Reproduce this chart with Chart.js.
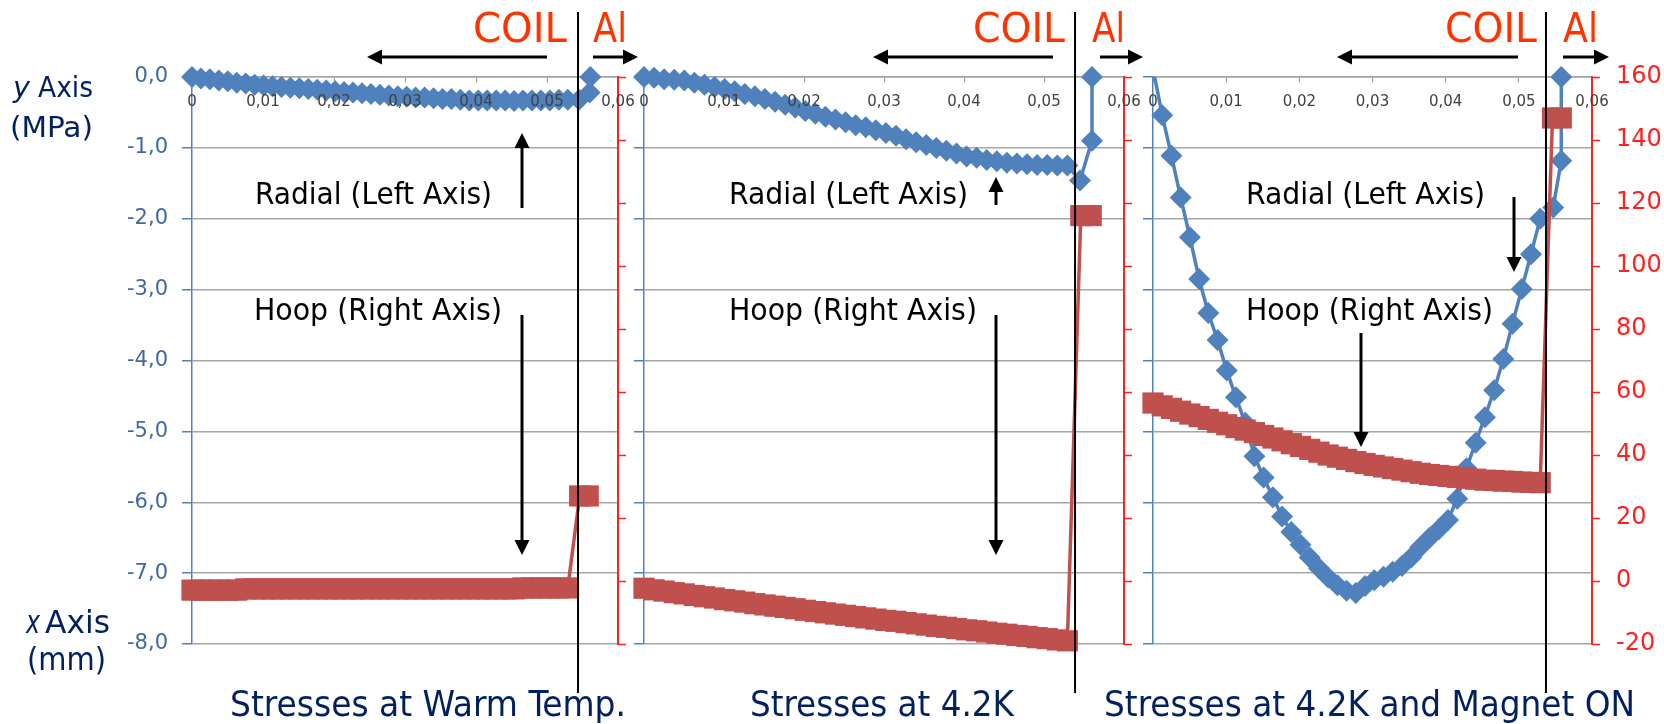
<!DOCTYPE html>
<html><head><meta charset="utf-8">
<script src="https://cdn.jsdelivr.net/npm/chart.js@4.4.1/dist/chart.umd.min.js"></script>
<style>
html,body{margin:0;padding:0;background:#fff;width:1664px;height:724px;overflow:hidden;}
#wrap{position:relative;width:1664px;height:724px;overflow:hidden;}
#wrap canvas{position:absolute;top:0;}
#ov{position:absolute;left:0;top:0;}
</style></head><body>
<div id="wrap">
<canvas id="p1"></canvas><canvas id="p2"></canvas><canvas id="p3"></canvas>
<svg id="ov" width="1664" height="724" viewBox="0 0 1664 724" style="font-family:'DejaVu Sans Condensed','DejaVu Sans',sans-serif">
 <g fill="#ff3300" font-size="41">
  <text x="473" y="42" textLength="94" lengthAdjust="spacingAndGlyphs">COIL</text>
  <text x="593" y="42" textLength="34" lengthAdjust="spacingAndGlyphs">Al</text>
  <text x="973" y="42" textLength="92" lengthAdjust="spacingAndGlyphs">COIL</text>
  <text x="1092" y="42" textLength="33" lengthAdjust="spacingAndGlyphs">Al</text>
  <text x="1445" y="42" textLength="92" lengthAdjust="spacingAndGlyphs">COIL</text>
  <text x="1563" y="42" textLength="35" lengthAdjust="spacingAndGlyphs">Al</text>
 </g>
 <g fill="#000" font-size="30">
  <text x="255" y="204" textLength="237" lengthAdjust="spacingAndGlyphs">Radial (Left Axis)</text>
  <text x="254" y="320" textLength="248" lengthAdjust="spacingAndGlyphs">Hoop (Right Axis)</text>
  <text x="729" y="204" textLength="239" lengthAdjust="spacingAndGlyphs">Radial (Left Axis)</text>
  <text x="729" y="320" textLength="248" lengthAdjust="spacingAndGlyphs">Hoop (Right Axis)</text>
  <text x="1246" y="204" textLength="239" lengthAdjust="spacingAndGlyphs">Radial (Left Axis)</text>
  <text x="1246" y="320" textLength="247" lengthAdjust="spacingAndGlyphs">Hoop (Right Axis)</text>
 </g>
 <g fill="#00205f" font-size="35">
  <text x="230" y="716" textLength="396" lengthAdjust="spacingAndGlyphs">Stresses at Warm Temp.</text>
  <text x="750" y="716" textLength="264" lengthAdjust="spacingAndGlyphs">Stresses at 4.2K</text>
  <text x="1104" y="716" textLength="531" lengthAdjust="spacingAndGlyphs">Stresses at 4.2K and Magnet ON</text>
 </g>
 <g fill="#00205f">
  <text x="13" y="97" font-size="28" font-style="italic" textLength="17" lengthAdjust="spacingAndGlyphs">y</text>
  <text x="38" y="97" font-size="28" textLength="55" lengthAdjust="spacingAndGlyphs">Axis</text>
  <text x="10" y="137" font-size="28" textLength="83" lengthAdjust="spacingAndGlyphs">(MPa)</text>
  <text x="26" y="633" font-size="32" font-style="italic" textLength="14" lengthAdjust="spacingAndGlyphs">x</text>
  <text x="45" y="633" font-size="32" textLength="65" lengthAdjust="spacingAndGlyphs">Axis</text>
  <text x="27" y="670" font-size="32" textLength="79" lengthAdjust="spacingAndGlyphs">(mm)</text>
 </g>
 <g id="arrows"></g>
 <g id="seps"></g>
</svg>
</div>
<script>
// ---- data (x in the plotted units, stresses in MPa) ----
const xCoil = [0, 0.00126, 0.00252, 0.00378, 0.00504, 0.0063, 0.00756, 0.00882, 0.01008, 0.01134,
  0.0126, 0.01386, 0.01512, 0.01638, 0.01764, 0.0189, 0.02016, 0.02142, 0.02268, 0.02394,
  0.0252, 0.02646, 0.02772, 0.02898, 0.03024, 0.0315, 0.03276, 0.03402, 0.03528, 0.03654,
  0.0378, 0.03906, 0.04032, 0.04158, 0.04284, 0.0441, 0.04536, 0.04662, 0.04788, 0.04914,
  0.0504, 0.05166, 0.05292];
const xTicks = [0, 0.01, 0.02, 0.03, 0.04, 0.05, 0.06];

// Warm temperature
const radialWarm = [0, -0.02, -0.03, -0.05, -0.06, -0.08, -0.09, -0.11, -0.12, -0.13,
  -0.14, -0.15, -0.16, -0.17, -0.18, -0.19, -0.2, -0.21, -0.22, -0.23,
  -0.24, -0.25, -0.26, -0.27, -0.28, -0.29, -0.29, -0.3, -0.31, -0.31,
  -0.32, -0.33, -0.33, -0.33, -0.33, -0.33, -0.34, -0.33, -0.33, -0.33,
  -0.33, -0.32, -0.32];
const radialWarmAlX = [0.0545, 0.0560, 0.0561];
const radialWarmAlY = [-0.32, -0.22, 0.0];
const hoopWarm = [-2.9, -2.9, -2.9, -2.9, -2.9, -2.9, -2.5, -2.5, -2.5, -2.5,
  -2.5, -2.5, -2.5, -2.5, -2.5, -2.5, -2.5, -2.5, -2.5, -2.5,
  -2.5, -2.5, -2.5, -2.5, -2.5, -2.5, -2.5, -2.5, -2.5, -2.5,
  -2.5, -2.5, -2.5, -2.5, -2.5, -2.5, -2.5, -2.2, -2.2, -2.2,
  -2.2, -2.2, -2.2];
const hoopWarmAlX = [0.0546, 0.0558];
const hoopWarmAlY = [27, 27];

// 4.2 K
const radialCold = [0, -0.01, -0.03, -0.04, -0.05, -0.08, -0.11, -0.14, -0.17, -0.2,
  -0.24, -0.27, -0.31, -0.35, -0.39, -0.43, -0.48, -0.52, -0.56, -0.6,
  -0.64, -0.68, -0.71, -0.75, -0.79, -0.83, -0.88, -0.92, -0.96, -1.0,
  -1.04, -1.08, -1.12, -1.14, -1.17, -1.19, -1.21, -1.22, -1.23, -1.24,
  -1.24, -1.25, -1.25];
const radialColdAlX = [0.0545, 0.0560, 0.0560];
const radialColdAlY = [-1.46, -0.9, 0.0];
const hoopCold = [-2.3, -2.8, -3.2, -3.7, -4.1, -4.6, -5.0, -5.4, -5.9, -6.3,
  -6.7, -7.2, -7.6, -8.0, -8.4, -8.8, -9.3, -9.7, -10.1, -10.5,
  -10.9, -11.3, -11.7, -12.1, -12.5, -12.8, -13.2, -13.6, -14.0, -14.4,
  -14.7, -15.1, -15.5, -15.8, -16.2, -16.6, -16.9, -17.3, -17.6, -18.0,
  -18.3, -18.7, -19.0];
const hoopColdAlX = [0.0546, 0.0559];
const hoopColdAlY = [116, 116];

// 4.2 K and magnet ON
const radialOn = [0.12, -0.54, -1.11, -1.70, -2.26, -2.85, -3.33, -3.71, -4.14, -4.52,
  -4.88, -5.35, -5.65, -5.93, -6.2, -6.42, -6.6, -6.78, -6.93, -7.06,
  -7.17, -7.25, -7.28, -7.18, -7.10, -7.05, -6.98, -6.90, -6.78, -6.63,
  -6.50, -6.38, -6.25, -5.95, -5.52, -5.16, -4.80, -4.42, -3.98, -3.48,
  -2.99, -2.50, -2.00];
const radialOnAlX = [0.0547, 0.0558, 0.0558];
const radialOnAlY = [-1.84, -1.18, 0.0];
const hoopOn = [56.5, 55.6, 54.8, 53.9, 53.0, 52.2, 51.3, 50.4, 49.6, 48.7,
  47.9, 47.1, 46.2, 45.4, 44.5, 43.6, 42.7, 41.8, 40.9, 40.0,
  39.3, 38.6, 37.9, 37.3, 36.7, 36.2, 35.7, 35.2, 34.7, 34.2,
  33.8, 33.5, 33.2, 32.9, 32.6, 32.3, 32.0, 31.9, 31.7, 31.6,
  31.4, 31.3, 31.2];
const hoopOnAlX = [0.0546, 0.0558];
const hoopOnAlY = [147, 147];

// COIL / Al interface positions (x units)
const interfaceX = [0.05437, 0.05388, 0.05371];

// ---- styling / layout ----
const BLUE = '#4f81bd', RED = '#c0504d', AXRED = '#ff2020';
const AXFONT = "'DejaVu Sans',sans-serif";
const M = 110;
const panels = [
  {id:'p1', left:192, right:618, rad:radialWarm, radAlX:radialWarmAlX, radAlY:radialWarmAlY,
   hoop:hoopWarm, hoopAlX:hoopWarmAlX, hoopAlY:hoopWarmAlY, leftLabels:true, rightLabels:false, cut:0},
  {id:'p2', left:644, right:1124, rad:radialCold, radAlX:radialColdAlX, radAlY:radialColdAlY,
   hoop:hoopCold, hoopAlX:hoopColdAlX, hoopAlY:hoopColdAlY, leftLabels:false, rightLabels:false, cut:0},
  {id:'p3', left:1153, right:1592, rad:radialOn, radAlX:radialOnAlX, radAlY:radialOnAlY,
   hoop:hoopOn, hoopAlX:hoopOnAlX, hoopAlY:hoopOnAlY, leftLabels:false, rightLabels:true, cut:6}
];

const pts = (xs, ys) => xs.map((x, i) => ({x: x, y: ys[i]}));

const clipPlug = {
  id: 'clipPlug',
  beforeDatasetDraw(chart, args, opts) {
    const a = chart.chartArea, ctx = chart.ctx, m = 16;
    ctx.save(); ctx.beginPath();
    if (opts.cut && args.meta.yAxisID === 'y') {
      ctx.rect(a.left - m, a.top, a.width + 2 * m, a.height + m);
      ctx.rect(a.left + opts.cut, a.top - m, a.width - opts.cut + m, m);
    } else {
      ctx.rect(a.left - m, a.top - m, a.width + 2 * m, a.height + 2 * m);
    }
    ctx.clip();
  },
  afterDatasetDraw(chart) { chart.ctx.restore(); }
};

const charts = [];
panels.forEach(p => {
  const cv = document.getElementById(p.id);
  const w = p.right - p.left + 2 * M;
  cv.width = w; cv.height = 724;
  cv.style.left = (p.left - M) + 'px';
  cv.style.width = w + 'px'; cv.style.height = '724px';
  const radData = pts(xCoil, p.rad).concat(pts(p.radAlX, p.radAlY));
  const hoopData = pts(xCoil, p.hoop).concat(pts(p.hoopAlX, p.hoopAlY));
  const ch = new Chart(cv, {
    type: 'scatter',
    data: { datasets: [
      { label: 'Hoop', data: hoopData, yAxisID: 'y1', showLine: true, clip: false, order: 0,
        borderColor: RED, backgroundColor: RED, borderWidth: 3.5,
        pointStyle: 'rect', pointRadius: 15, pointBorderWidth: 0, pointBackgroundColor: RED },
      { label: 'Radial', data: radData, yAxisID: 'y', showLine: true, clip: false, order: 1,
        borderColor: BLUE, backgroundColor: BLUE, borderWidth: 3.5,
        pointStyle: 'rectRot', pointRadius: radData.map(d => d.y > 0 ? 0 : 11),
        pointBorderWidth: 0, pointBackgroundColor: BLUE }
    ]},
    options: {
      responsive: false, animation: false, events: [],
      layout: { padding: { top: 77, bottom: 80, left: 0, right: 0 } },
      plugins: { legend: {display: false}, tooltip: {enabled: false}, clipPlug: {cut: p.cut} },
      scales: {
        x: { type: 'linear', position: {y: 0}, min: 0, max: 0.06,
             afterBuildTicks: s => { s.ticks = xTicks.map(v => ({value: v})); },
             ticks: { z: 1, color: '#404040', padding: 11, font: {family: AXFONT, size: 15},
                      maxRotation: 0, autoSkip: false,
                      callback: v => v === 0 ? '0' : Number(v).toFixed(2).replace('.', ',') },
             grid: { drawOnChartArea: false, tickLength: 5, tickColor: '#a0a0a0', tickWidth: 1.2 },
             border: { color: '#a6a6a6', width: 1.5 } },
        y: { position: 'left', min: -8, max: 0,
             ticks: { stepSize: 1, display: p.leftLabels, color: '#4268a0', padding: 14,
                      font: {family: AXFONT, size: 21},
                      callback: v => Number(v).toFixed(1).replace('.', ',') },
             grid: { color: '#a6a6a6', lineWidth: 1.5, tickColor: BLUE, tickLength: 10, tickWidth: 1.5 },
             border: { color: BLUE, width: 1.5 },
             afterFit: s => { s.width = M; } },
        y1: { position: 'right', min: -20, max: 160,
              ticks: { stepSize: 20, display: p.rightLabels, color: AXRED, padding: 16,
                       font: {family: AXFONT, size: 24} },
              grid: { drawOnChartArea: false, tickColor: AXRED, tickLength: 8, tickWidth: 1.5 },
              border: { color: AXRED, width: 2 },
              afterFit: s => { s.width = M; } }
      }
    },
    plugins: [clipPlug]
  });
  charts.push({ch: ch, offset: p.left - M});
});

// ---- annotation arrows and COIL/Al separators ----
const NS = 'http://www.w3.org/2000/svg';
function el(tag, attrs, parent) {
  const e = document.createElementNS(NS, tag);
  for (const k in attrs) e.setAttribute(k, attrs[k]);
  parent.appendChild(e); return e;
}
const arrowsG = document.getElementById('arrows');
function arrow(x1, y1, x2, y2) {
  const L = 15, H = 7.5;
  const dx = x2 - x1, dy = y2 - y1, len = Math.hypot(dx, dy), ux = dx / len, uy = dy / len;
  const bx = x2 - ux * L, by = y2 - uy * L;
  el('line', {x1: x1, y1: y1, x2: bx, y2: by, stroke: '#000', 'stroke-width': 3}, arrowsG);
  el('polygon', {points: `${x2},${y2} ${bx - uy * H},${by + ux * H} ${bx + uy * H},${by - ux * H}`, fill: '#000'}, arrowsG);
}
const arrowList = [
  [547, 57, 367, 57], [593, 57, 638, 57],
  [1053, 57, 873, 57], [1100, 57, 1143, 57],
  [1518, 57, 1337, 57], [1563, 57, 1609, 57],
  [522, 208, 522, 133], [522, 315, 522, 555],
  [996, 205, 996, 177], [996, 315, 996, 555],
  [1514, 197, 1514, 272], [1361, 333, 1361, 447]
];
arrowList.forEach(a => arrow(a[0], a[1], a[2], a[3]));

const sepG = document.getElementById('seps');
charts.forEach((c, i) => {
  const px = c.offset + c.ch.scales.x.getPixelForValue(interfaceX[i]);
  el('line', {x1: px, y1: 12, x2: px, y2: 693, stroke: '#000', 'stroke-width': 2}, sepG);
});
</script>
</body></html>
